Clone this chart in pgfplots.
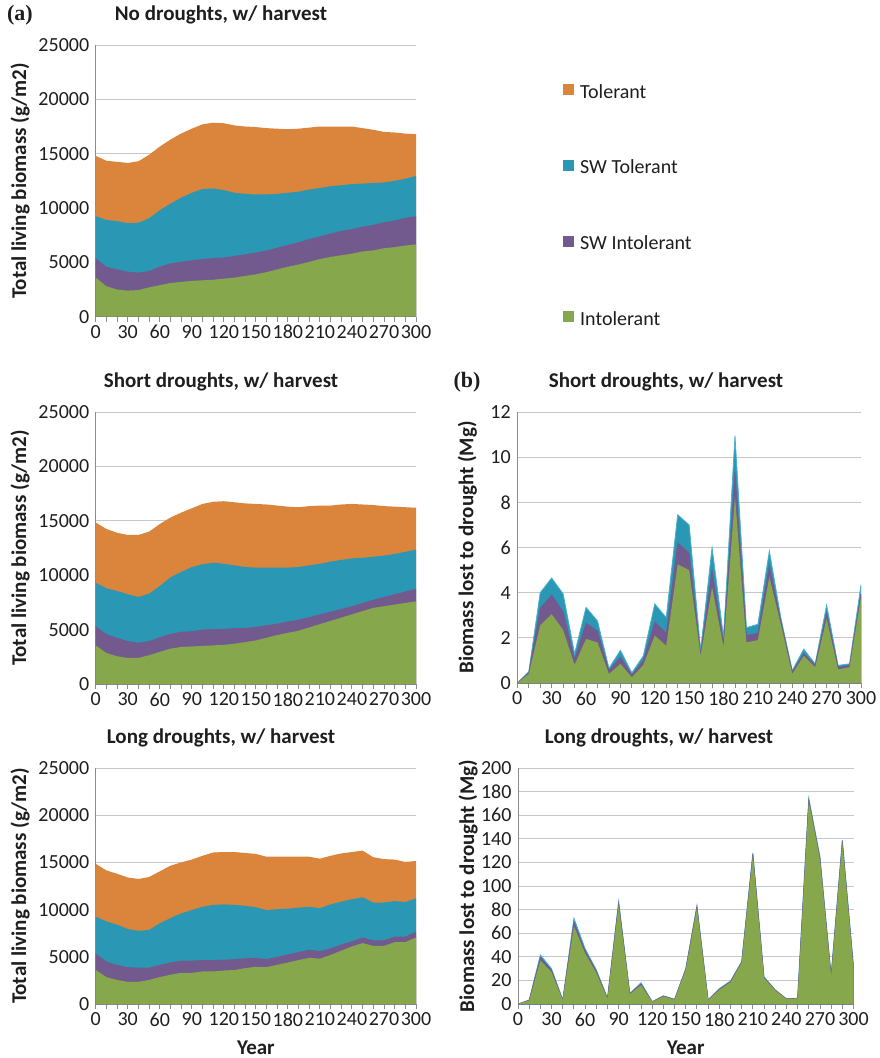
\documentclass[border=0pt]{standalone}
\usepackage{pgfplots}
\usepackage{pgfplotstable}
\pgfplotsset{compat=1.18}
\usepackage{fontspec}
\setmainfont{Carlito}
\newfontfamily\timesb{Liberation Serif}

\definecolor{cTol}{HTML}{DB843B}
\definecolor{cSWT}{HTML}{2A97B4}
\definecolor{cSWI}{HTML}{735A8E}
\definecolor{cInt}{HTML}{86A74B}
\definecolor{cSWTl}{HTML}{4BB0CC}
\definecolor{gridc}{HTML}{C8C8C8}
\definecolor{axisc}{HTML}{8C8C8C}
\definecolor{txt}{HTML}{1E1E1E}

% cumulative tops of the stacked areas (g/m2)
\pgfplotstableread{
year int swint swtol tol
0 3600 5370 9250 14800
10 2800 4600 8900 14350
20 2500 4350 8800 14250
30 2400 4150 8600 14150
40 2450 4050 8650 14300
50 2700 4200 9050 14900
60 2900 4600 9800 15650
70 3100 4900 10400 16300
80 3200 5050 10950 16850
90 3300 5200 11400 17300
100 3350 5300 11750 17700
110 3400 5400 11800 17850
120 3500 5450 11650 17800
130 3600 5600 11400 17600
140 3750 5750 11300 17500
150 3900 5900 11250 17450
160 4100 6100 11250 17350
170 4350 6350 11300 17300
180 4600 6600 11400 17250
190 4800 6850 11500 17300
200 5050 7150 11700 17400
210 5300 7400 11850 17500
220 5500 7650 12000 17500
230 5650 7900 12100 17500
240 5800 8050 12200 17500
250 6000 8300 12250 17350
260 6100 8450 12300 17200
270 6300 8700 12350 17000
280 6400 8850 12500 16950
290 6550 9100 12700 16850
300 6650 9250 12950 16800
}\dataNo

\pgfplotstableread{
year int swint swtol tol
0 3550 5300 9300 14850
10 2850 4600 8800 14250
20 2550 4250 8550 13900
30 2400 3950 8250 13700
40 2400 3800 8000 13700
50 2650 3950 8300 14000
60 2950 4300 9000 14700
70 3250 4600 9800 15300
80 3400 4800 10300 15750
90 3450 4850 10750 16150
100 3500 5000 11000 16550
110 3550 5050 11150 16750
120 3600 5050 11050 16800
130 3700 5150 10900 16700
140 3850 5150 10750 16600
150 4000 5250 10700 16550
160 4250 5400 10700 16500
170 4500 5550 10700 16400
180 4700 5750 10700 16300
190 4900 5900 10750 16250
200 5200 6150 10900 16350
210 5500 6400 11050 16400
220 5800 6650 11250 16400
230 6100 6900 11400 16500
240 6400 7150 11550 16550
250 6700 7450 11600 16500
260 7000 7750 11700 16450
270 7150 8000 11800 16350
280 7300 8250 11950 16300
290 7450 8500 12150 16250
300 7600 8750 12350 16200
}\dataShort

\pgfplotstableread{
year int swint swtol tol
0 3600 5350 9250 14850
10 2850 4500 8750 14150
20 2550 4150 8400 13800
30 2350 3900 7950 13400
40 2350 3850 7750 13250
50 2550 3850 7850 13450
60 2850 4150 8550 14050
70 3100 4400 9100 14650
80 3300 4600 9600 15000
90 3300 4600 9950 15300
100 3450 4650 10300 15700
110 3450 4650 10500 16050
120 3550 4700 10550 16100
130 3600 4750 10500 16100
140 3800 4850 10400 16000
150 3950 4900 10250 15900
160 3900 4750 9950 15600
170 4150 5000 10050 15600
180 4400 5250 10100 15600
190 4650 5500 10200 15600
200 4900 5750 10300 15600
210 4800 5600 10150 15400
220 5200 5900 10550 15700
230 5650 6300 10850 15950
240 6100 6650 11100 16100
250 6450 7050 11300 16250
260 6150 6750 10750 15550
270 6150 6750 10750 15350
280 6550 7150 10900 15300
290 6550 7150 10800 15050
300 7050 7650 11200 15150
}\dataLong

% cumulative biomass lost to drought (Mg)
\pgfplotstableread{
year int swint swtol
0 0 0 0
10 0.40 0.45 0.5
20 2.55 3.3 4.0
30 3.05 3.9 4.65
40 2.35 3.15 3.95
50 0.8 1.05 1.3
60 1.95 2.65 3.35
70 1.8 2.3 2.75
80 0.4 0.55 0.65
90 0.85 1.15 1.45
100 0.25 0.35 0.45
110 0.8 1.0 1.2
120 2.1 2.7 3.5
130 1.65 2.2 2.9
140 5.25 6.2 7.45
150 5.0 5.75 7.0
160 1.2 1.3 1.45
170 4.25 5.0 6.0
180 1.6 1.75 2.05
190 8.25 9.35 10.95
200 1.8 2.1 2.45
210 1.9 2.2 2.6
220 4.7 5.2 5.85
230 2.6 2.75 2.9
240 0.4 0.5 0.55
250 1.2 1.3 1.5
260 0.7 0.8 0.85
270 2.85 3.1 3.45
280 0.6 0.7 0.78
290 0.7 0.78 0.85
300 3.8 3.95 4.35
}\lossShort

\pgfplotstableread{
year int swint swtol
0 0 0 0
10 3.0 3.2 3.4
20 37 39.5 41.6
30 27 28.5 30
40 3.2 3.4 3.5
50 66 69.5 72.7
60 43 45 47
70 26.5 28 29
80 4.5 4.8 5
90 84 85.5 87
100 8.5 8.8 9
110 16 17 18
120 1.8 1.9 2
130 6.5 6.8 7
140 3.7 3.9 4
150 29 29.5 30
160 81.5 82.5 83.5
170 3.3 3.4 3.5
180 12 12.5 13
190 18.5 19 19.5
200 35 35.5 36
210 126 127 128
220 22 22.5 23
230 11.5 11.8 12
240 4.3 4.4 4.5
250 4.8 4.9 5
260 172 173 174.5
270 122.5 123.5 125
280 23.5 24 24.6
290 137 138 139
300 30 31 32
}\lossLong

\pgfplotsset{
  panel/.style={
    scale only axis,
    axis x line*=bottom, axis y line*=left,
    xmin=0, xmax=300,
    xtick={0,30,...,300}, minor xtick={0,10,...,300},
    tick align=outside,
    major tick length=5pt, minor tick length=5pt,
    xtick style={draw=axisc, line width=0.9pt},
    ytick style={draw=none},
    ymajorgrids,
    major grid style={draw=gridc, line width=0.9pt},
    axis line style={draw=axisc, line width=0.9pt},
    tick label style={font=\fontsize{20}{24}\selectfont, text=txt},
    yticklabel style={xshift=2pt},
    scaled y ticks=false,
    /pgf/number format/assume math mode=true,
    /pgf/number format/1000 sep={},
    every axis y label/.style={at={(axis description cs:0,0.5)}, rotate=90, anchor=center,
      font=\bfseries\fontsize{21}{25}\selectfont, text=txt},
    every axis x label/.style={at={(axis description cs:0.5,0)}, anchor=center, yshift=-44pt,
      font=\bfseries\fontsize{21}{25}\selectfont, text=txt},
  },
  biom/.style={panel, ymin=0, ymax=25000, ytick={0,5000,...,25000},
    width=320.3pt, ylabel={Total living biomass (g/m2)},
    ylabel style={yshift=75.7pt}},
  loss/.style={panel, ylabel={Biomass lost to drought (Mg)}},
}

\begin{document}
\begin{tikzpicture}[x=1pt,y=1pt]
\useasboundingbox (0,0) rectangle (880,-1058);

% ---- (a) No droughts
\begin{axis}[biom, height=271.7pt, at={(95.7pt,-316.7pt)}, anchor=south west,
  legend style={at={(1.4496,0.8636)}, anchor=north west, draw=none, fill=none,
    font=\fontsize{20}{24}\selectfont, text=txt, row sep=61.7pt,
    nodes={inner sep=0pt, text height=14pt, text depth=0pt}},
  legend cell align=left,
  legend image code/.code={\fill[#1] (0pt,-4pt) rectangle (11pt,7pt);},
  legend style={/tikz/every odd column/.append style={column sep=6pt}}]
\addplot[fill=cTol, draw=none] table[x=year,y=tol]{\dataNo} \closedcycle;
\addplot[fill=cSWT, draw=none] table[x=year,y=swtol]{\dataNo} \closedcycle;
\addplot[fill=cSWI, draw=none] table[x=year,y=swint]{\dataNo} \closedcycle;
\addplot[fill=cInt, draw=none] table[x=year,y=int]{\dataNo} \closedcycle;
\legend{Tolerant, SW Tolerant, SW Intolerant, Intolerant}
\end{axis}

% ---- Short droughts (left)
\begin{axis}[biom, height=272pt, at={(95.7pt,-684pt)}, anchor=south west]
\addplot[fill=cTol, draw=none] table[x=year,y=tol]{\dataShort} \closedcycle;
\addplot[fill=cSWT, draw=none] table[x=year,y=swtol]{\dataShort} \closedcycle;
\addplot[fill=cSWI, draw=none] table[x=year,y=swint]{\dataShort} \closedcycle;
\addplot[fill=cInt, draw=none] table[x=year,y=int]{\dataShort} \closedcycle;
\end{axis}

% ---- Long droughts (left)
\begin{axis}[biom, height=236pt, at={(95.7pt,-1004pt)}, anchor=south west, xlabel={Year}]
\addplot[fill=cTol, draw=none] table[x=year,y=tol]{\dataLong} \closedcycle;
\addplot[fill=cSWT, draw=none] table[x=year,y=swtol]{\dataLong} \closedcycle;
\addplot[fill=cSWI, draw=none] table[x=year,y=swint]{\dataLong} \closedcycle;
\addplot[fill=cInt, draw=none] table[x=year,y=int]{\dataLong} \closedcycle;
\end{axis}

% ---- (b) Short droughts loss
\begin{axis}[loss, width=343.7pt, height=271pt, at={(517.3pt,-683pt)}, anchor=south west,
  ymin=0, ymax=12, ytick={0,2,...,12}, ylabel style={yshift=50pt}]
\addplot[fill=cSWT, draw=cSWTl, line width=0.8pt] table[x=year,y=swtol]{\lossShort} \closedcycle;
\addplot[fill=cSWI, draw=cSWI, line width=0.6pt] table[x=year,y=swint]{\lossShort} \closedcycle;
\addplot[fill=cInt, draw=none] table[x=year,y=int]{\lossShort} \closedcycle;
\end{axis}

% ---- Long droughts loss
\begin{axis}[loss, width=335.5pt, height=236pt, at={(518pt,-1004pt)}, anchor=south west,
  ymin=0, ymax=200, ytick={0,20,...,200}, ylabel style={yshift=50pt}, xlabel={Year}]
\addplot[fill=cSWT, draw=cSWTl, line width=0.8pt] table[x=year,y=swtol]{\lossLong} \closedcycle;
\addplot[fill=cSWI, draw=cSWI, line width=0.6pt] table[x=year,y=swint]{\lossLong} \closedcycle;
\addplot[fill=cInt, draw=none] table[x=year,y=int]{\lossLong} \closedcycle;
\end{axis}

% titles and panel letters
\begin{scope}[every node/.style={font=\bfseries\fontsize{21}{25}\selectfont, text=txt}]
\node at (221,-15) {No droughts, w/ harvest};
\node at (221,-382) {Short droughts, w/ harvest};
\node at (221,-738) {Long droughts, w/ harvest};
\node at (666,-382) {Short droughts, w/ harvest};
\node at (659,-738) {Long droughts, w/ harvest};
\end{scope}
\node[font=\timesb\bfseries\fontsize{22}{26}\selectfont, text=txt] at (20,-15) {(a)};
\node[font=\timesb\bfseries\fontsize{22}{26}\selectfont, text=txt] at (467,-382) {(b)};
\end{tikzpicture}
\end{document}
